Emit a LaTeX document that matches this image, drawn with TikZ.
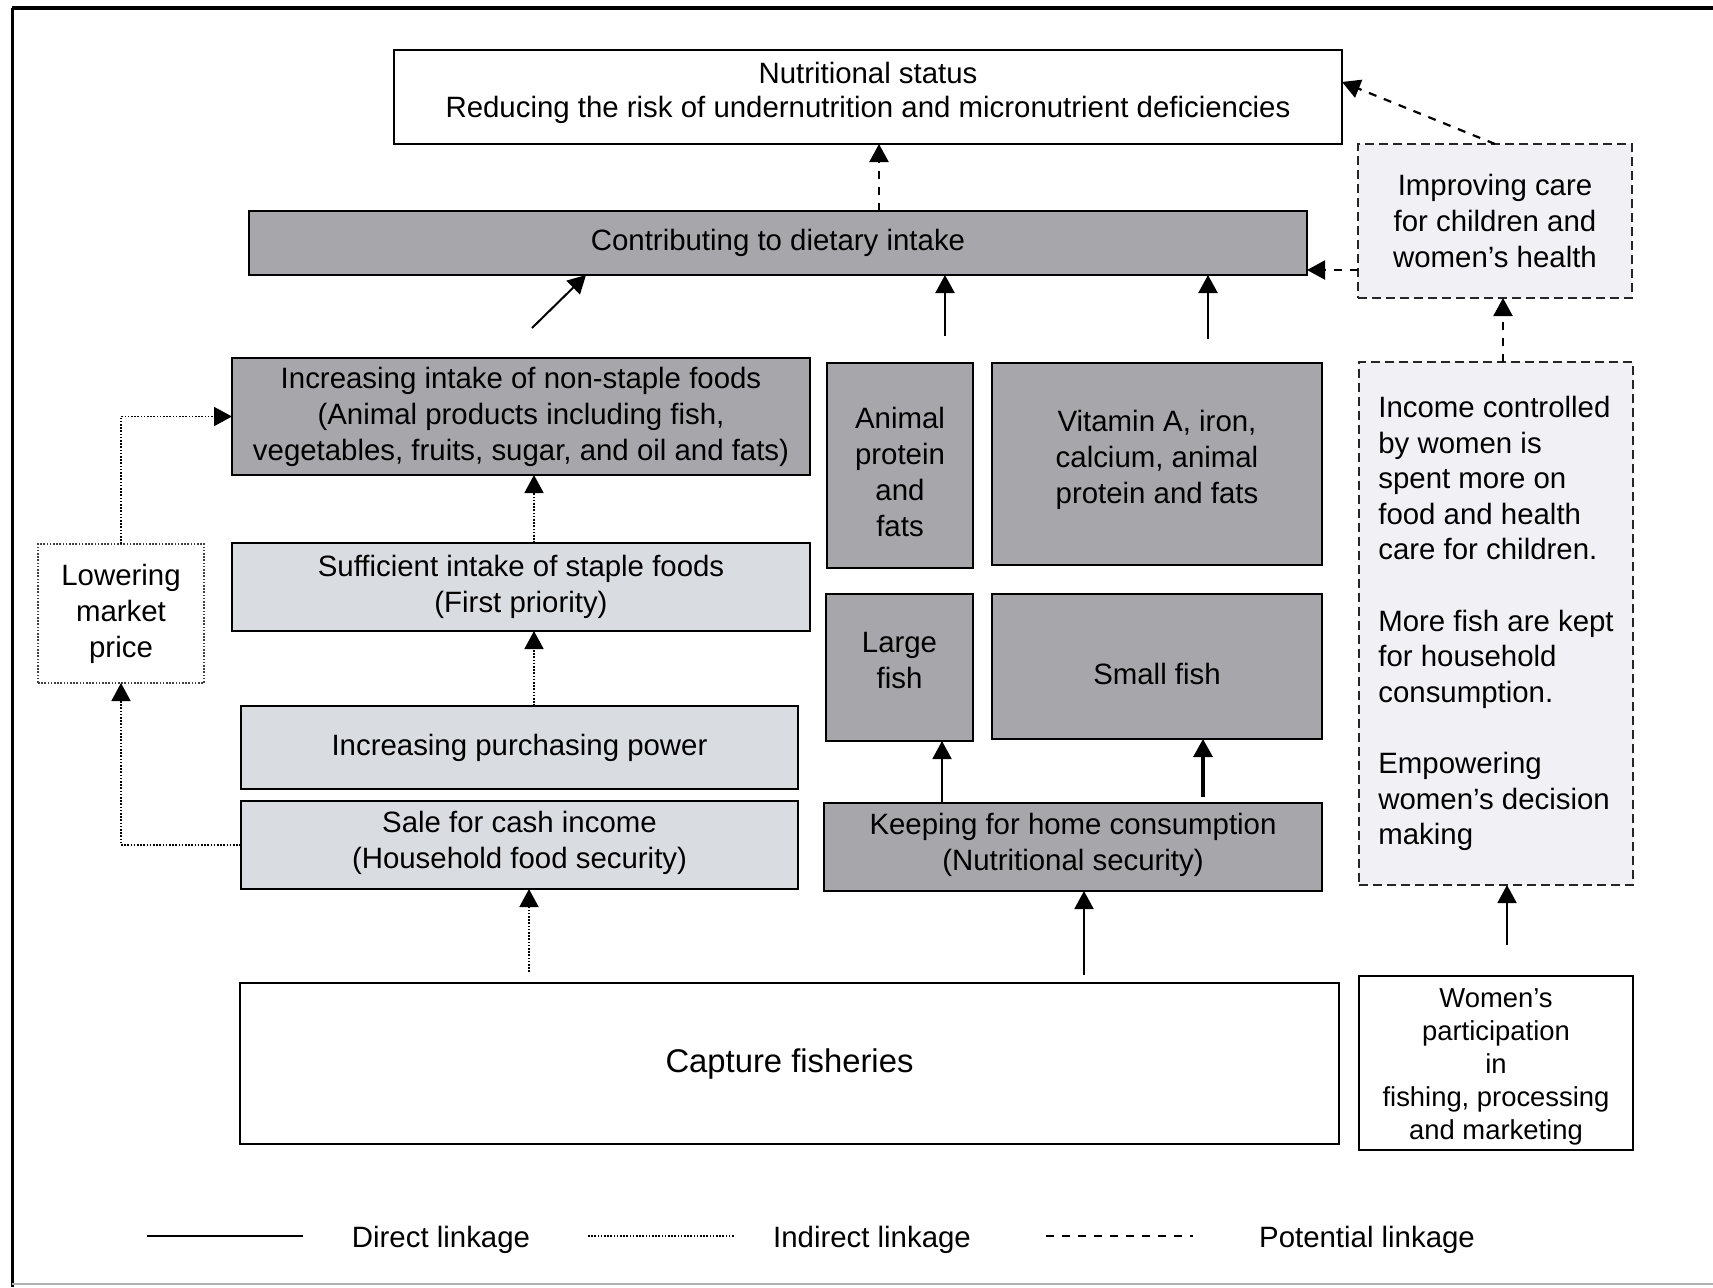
\documentclass[tikz,border=0pt]{standalone}
\usepackage{fontspec}
\setmainfont{Liberation Sans}
\usetikzlibrary{arrows.meta,calc}
\definecolor{dk}{RGB}{166,166,171}
\definecolor{lt}{RGB}{217,220,224}
\definecolor{vl}{RGB}{240,240,245}
\begin{document}
\begin{tikzpicture}[x=0.5pt,y=-0.5pt,
 base/.style={draw=black,line width=1.4pt,inner sep=0pt,outer sep=0pt,align=center,font=\fontsize{14.7}{18}\selectfont},
 darkbox/.style={base,fill=dk},
 lightbox/.style={base,fill=lt},
 whitebox/.style={base,fill=white},
 potbox/.style={base,fill=vl,draw=black!85,line width=1.2pt,dash pattern=on 4.5pt off 2.5pt},
 dotbox/.style={base,draw=black!75,line width=0.9pt,dash pattern=on 0.8pt off 0.8pt},
 tip/.style={-{Triangle[length=9pt,width=9.5pt]}},
 direct/.style={tip,line width=1pt},
 indirect/.style={tip,line width=0.9pt,dash pattern=on 0.8pt off 0.8pt},
 potential/.style={tip,line width=1.1pt,dash pattern=on 4pt off 4pt},
 legtext/.style={font=\fontsize{14.7}{16}\selectfont},
]
\useasboundingbox (0,0) rectangle (1713,1287);
% frame
\draw[line width=2.4pt] (12,8) -- (1713,8);
\draw[line width=1.5pt] (12,8) -- (12,1287);
\draw[black!30,line width=1pt] (12,1284) -- (1713,1284);

% boxes
\node[whitebox, minimum width=474pt, minimum height=47pt, font=\fontsize{14.7}{17}\selectfont] (nut) at (868,97) {Nutritional status\\Reducing the risk of undernutrition and micronutrient deficiencies\rule[-7pt]{0pt}{1pt}};
\node[darkbox, minimum width=529pt, minimum height=32pt] (diet) at (778,243) {Contributing to dietary intake};
\node[potbox, minimum width=137pt, minimum height=77pt] (care) at (1495,221) {Improving care\\for children and\\women's health};
\node[darkbox, minimum width=289pt, minimum height=58.5pt] (nonst) at (521,416.5) {Increasing intake of non-staple foods\\(Animal products including fish,\\vegetables, fruits, sugar, and oil and fats)};
\node[darkbox, minimum width=73pt, minimum height=102.5pt] (anim) at (900,465.5) {\rule{0pt}{17.5pt}Animal\\protein\\and\\fats};
\node[darkbox, minimum width=165pt, minimum height=101pt] (vit) at (1157,464) {Vitamin A, iron,\\calcium, animal\\protein and fats\rule[-7pt]{0pt}{1pt}};
\node[potbox, minimum width=137pt, minimum height=261.5pt, align=left, font=\fontsize{14.7}{17.8}\selectfont] (inc) at (1496,623.5) {Income controlled\\by women is\\spent more on\\food and health\\care for children.\\[17.8pt]More fish are kept\\for household\\consumption.\\[17.8pt]Empowering\\women's decision\\making};
\node[dotbox, minimum width=83pt, minimum height=69.5pt] (low) at (121,613.5) {Lowering\\market\\price};
\node[lightbox, minimum width=289pt, minimum height=44pt] (suff) at (521,587) {Sufficient intake of staple foods\\(First priority)};
\node[darkbox, minimum width=73.5pt, minimum height=73.5pt] (large) at (899.5,667.5) {Large\\fish\rule[-7pt]{0pt}{1pt}};
\node[darkbox, minimum width=165pt, minimum height=72.5pt] (small) at (1157,666.5) {\rule{0pt}{18.5pt}Small fish};
\node[lightbox, minimum width=278.5pt, minimum height=41.5pt] (pp) at (519.5,747.5) {Increasing purchasing power};
\node[lightbox, minimum width=278.5pt, minimum height=44pt] (sale) at (519.5,845) {Sale for cash income\\(Household food security)\rule[-5pt]{0pt}{1pt}};
\node[darkbox, minimum width=249pt, minimum height=44pt] (keep) at (1073,847) {Keeping for home consumption\\(Nutritional security)\rule[-5pt]{0pt}{1pt}};
\node[whitebox, minimum width=549.5pt, minimum height=80.5pt, font=\fontsize{16.4}{18}\selectfont] (cap) at (789.5,1063.5) {Capture fisheries};
\node[whitebox, minimum width=137pt, minimum height=87pt, font=\fontsize{13.7}{16.5}\selectfont] (wom) at (1496,1063) {\rule{0pt}{13pt}Women's\\participation\\in\\fishing, processing\\and marketing};

% x positions of connectors
\coordinate (xa) at (879,0);
\coordinate (yc) at (0,270);
\coordinate (xd) at (1503,0);
\coordinate (xe) at (1507,0);
\coordinate (xf) at (529,0);
\coordinate (xg) at (1084,0);
\coordinate (xj) at (534,0);
\coordinate (la) at (532,328);
\coordinate (lb) at (586,0);
\coordinate (xm) at (945,0);
\coordinate (xn) at (1208,0);
\coordinate (xo) at (942,0);
\coordinate (xp) at (1203,0);

% connectors
\draw[potential] (diet.north -| xa) -- (nut.south -| xa);
\draw[potential] (care.north) -- ($(nut.north east)!0.34!(nut.south east)$);
\draw[potential] (care.west |- yc) -- (diet.east |- yc);
\draw[potential] (inc.north -| xd) -- (care.south -| xd);
\draw[direct, shorten <=15.5pt] (wom.north -| xe) -- (inc.south -| xe);
\draw[indirect, shorten <=5.5pt] (cap.north -| xf) -- (sale.south -| xf);
\draw[direct, shorten <=4pt] (cap.north -| xg) -- (keep.south -| xg);
\draw[indirect] (sale.west) -| (low.south);
\draw[indirect] (low.north) |- (nonst.west);
\draw[indirect] (pp.north -| xj) -- (suff.south -| xj);
\draw[indirect] (suff.north -| xj) -- (nonst.south -| xj);
\draw[direct] (la) -- (diet.south -| lb);
\draw[direct, line width=1.2pt, shorten <=13.5pt] (anim.north -| xm) -- (diet.south -| xm);
\draw[direct, line width=1.2pt, shorten <=12pt] (vit.north -| xn) -- (diet.south -| xn);
\draw[direct] (keep.north -| xo) -- (large.south -| xo);
\draw[direct, line width=1.6pt, shorten <=3pt] (keep.north -| xp) -- (small.south -| xp);

% legend
\coordinate (l1a) at (147,1236);
\coordinate (l1b) at (303,1236);
\coordinate (l2a) at (588,1236);
\coordinate (l2b) at (734,1236);
\coordinate (l3a) at (1046,1236);
\coordinate (l3b) at (1193,1236);
\draw[line width=1.3pt] (l1a) -- (l1b);
\draw[line width=0.9pt, dash pattern=on 0.8pt off 0.8pt] (l2a) -- (l2b);
\draw[line width=1.1pt, dash pattern=on 4pt off 4pt] (l3a) -- (l3b);
\node[legtext] (t1) at (441,1240) {Direct linkage};
\node[legtext] (t2) at (872,1240) {Indirect linkage};
\node[legtext] (t3) at (1367,1240) {Potential linkage};
\end{tikzpicture}
\end{document}
